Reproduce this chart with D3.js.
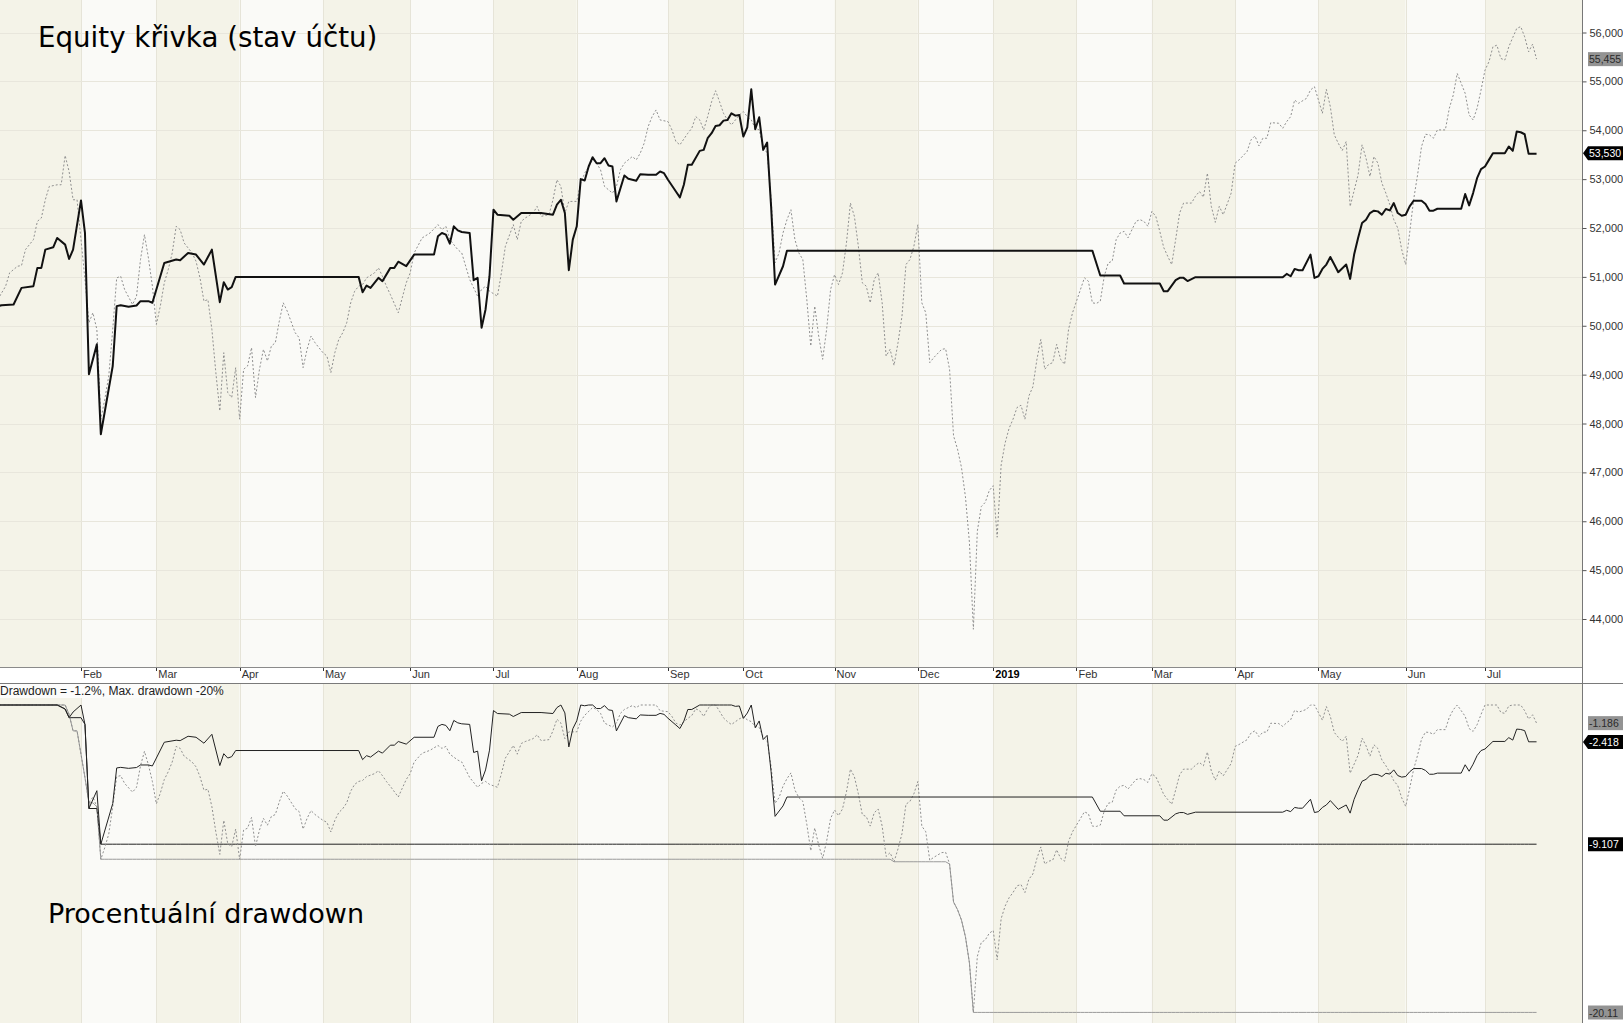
<!DOCTYPE html>
<html>
<head>
<meta charset="utf-8">
<script src="https://cdn.jsdelivr.net/npm/d3@7"></script>
<style>
  body { margin: 0; background: #fff; }
  svg { display: block; }
  .axis text { font-family: "Liberation Sans", Arial, sans-serif; font-size: 11px; fill: #333; }
  .title { font-family: "DejaVu Sans", Verdana, sans-serif; font-size: 27px; fill: #000; }
</style>
</head>
<body>
<svg id="chart" width="1623" height="1023"></svg>
<script>
const width = 1623,
    height = 1023,
    plotRight = 1582,
    upperBottom = 667,
    lowerTop = 683;

// US market holidays, used to build the trading calendar (one bar per session)
const HOLIDAYS = ["2018-01-01", "2018-01-15", "2018-02-19", "2018-03-30", "2018-05-28", "2018-07-04",
    "2018-09-03", "2018-11-22", "2018-12-05", "2018-12-25", "2019-01-01", "2019-01-21",
    "2019-02-18", "2019-04-19", "2019-05-27", "2019-07-04"];

// equity curve of the system: [session number since 2 Jan 2018, account value]
const equity = [
    [0, 50400], [1, 50420], [4, 50435], [6, 50775], [9, 50810], [10, 51184], [11, 51184], [12, 51558],
    [14, 51605], [15, 51796], [17, 51660], [18, 51367], [19, 51558], [21, 52565], [22, 51898], [23, 49007],
    [25, 49619], [26, 47780], [29, 49177], [30, 50401], [31, 50421], [33, 50387], [35, 50415], [36, 50503],
    [38, 50503], [39, 50470], [42, 51285], [45, 51354], [46, 51340], [48, 51490], [50, 51456], [52, 51252],
    [54, 51558], [56, 50483], [57, 50891], [58, 50741], [59, 50789], [60, 51000], [91, 51000], [92, 50687],
    [93, 50823], [94, 50775], [96, 50980], [97, 50911], [99, 51184], [100, 51184], [101, 51310], [103, 51220],
    [105, 51456], [110, 51456], [111, 51830], [112, 51898], [113, 51864], [114, 51680], [115, 52034], [116, 51952],
    [117, 51918], [119, 51898], [120, 50932], [121, 50979], [122, 49959], [123, 50333], [124, 51013], [125, 52374],
    [126, 52272], [129, 52251], [130, 52170], [132, 52306], [137, 52306], [140, 52272], [141, 52476], [142, 52578],
    [143, 52306], [144, 51136], [145, 51762], [146, 52034], [147, 53000], [148, 52973], [149, 53258], [150, 53449],
    [151, 53326], [152, 53326], [153, 53428], [154, 53279], [155, 53258], [156, 52544], [158, 53075], [159, 53007],
    [161, 52966], [162, 53102], [164, 53088], [166, 53088], [167, 53156], [168, 53122], [169, 52986], [171, 52748],
    [172, 52626], [173, 52884], [174, 53292], [175, 53292], [177, 53578], [178, 53598], [179, 53837], [180, 53939],
    [181, 54088], [182, 54102], [183, 54197], [184, 54211], [185, 54347], [186, 54299], [187, 54313], [188, 53871],
    [189, 54061], [190, 54837], [191, 54020], [192, 54265], [193, 53598], [194, 53748], [195, 52442], [196, 50843],
    [198, 51217], [199, 51537], [276, 51537], [278, 51027], [283, 51027], [284, 50864], [293, 50864], [294, 50707],
    [295, 50707], [297, 50932], [298, 50980], [299, 50980], [300, 50915], [302, 50993], [324, 50993], [325, 51061],
    [326, 51013], [327, 51163], [328, 51136], [329, 51136], [331, 51456], [332, 50979], [333, 51013], [334, 51163],
    [335, 51252], [336, 51408], [337, 51252], [338, 51095], [340, 51252], [341, 50959], [342, 51456], [343, 51796],
    [344, 52102], [345, 52170], [346, 52306], [347, 52354], [348, 52340], [349, 52272], [350, 52388], [351, 52360],
    [352, 52510], [353, 52306], [354, 52251], [355, 52272], [356, 52442], [357, 52558], [359, 52558], [360, 52490],
    [361, 52354], [362, 52354], [363, 52394], [369, 52394], [370, 52694], [371, 52462], [372, 52714], [373, 53020],
    [374, 53204], [375, 53258], [376, 53394], [377, 53530], [380, 53530], [381, 53667], [382, 53578], [383, 53973],
    [384, 53959], [385, 53918], [386, 53517], [388, 53517]
];

// buy & hold benchmark (dotted): [session, value]
const benchmark = [
    [0, 50537], [2, 50810], [3, 51082], [5, 51218], [6, 51231], [7, 51558], [9, 51762], [10, 52136],
    [11, 52204], [12, 52578], [13, 52850], [15, 52884], [16, 52884], [17, 53483], [18, 53156], [19, 52578],
    [20, 52578], [21, 51762], [22, 50946], [23, 50061], [24, 50265], [25, 49925], [26, 48088], [27, 48496],
    [28, 48973], [29, 49925], [30, 50979], [31, 51013], [32, 50741], [34, 50435], [35, 50605], [36, 51354],
    [37, 51864], [38, 51388], [39, 50809], [40, 50027], [41, 50401], [42, 50877], [43, 51150], [44, 51490],
    [45, 52034], [46, 51966], [47, 51694], [49, 51490], [50, 51320], [51, 50979], [52, 50503], [53, 50537],
    [54, 49925], [55, 49041], [56, 48258], [57, 49449], [58, 48632], [59, 48530], [60, 49143], [61, 48088],
    [62, 49109], [63, 49177], [64, 49551], [65, 48530], [66, 49109], [67, 49517], [68, 49279], [69, 49585],
    [70, 49653], [71, 50095], [72, 50469], [73, 50299], [75, 49857], [76, 49755], [77, 49143], [78, 49517],
    [79, 49789], [80, 49653], [82, 49449], [83, 49381], [84, 49041], [85, 49449], [86, 49721], [87, 49857],
    [88, 50061], [89, 50469], [90, 50707], [91, 50809], [92, 50843], [93, 50979], [95, 51082], [96, 51184],
    [97, 51013], [98, 50809], [99, 50639], [101, 50265], [102, 50571], [103, 50877], [104, 51082], [105, 51490],
    [107, 51796], [109, 51898], [111, 52068], [112, 51966], [113, 52034], [114, 51762], [116, 51558], [117, 51490],
    [118, 51218], [119, 50946], [121, 50605], [122, 50741], [123, 50809], [124, 50707], [126, 50605], [127, 51082],
    [128, 51626], [130, 52068], [131, 51762], [132, 52136], [133, 52204], [135, 52306], [136, 52442], [137, 52238],
    [139, 52272], [140, 52578], [141, 52986], [142, 52850], [143, 52306], [144, 52544], [146, 52544], [147, 52918],
    [148, 53122], [150, 53394], [151, 53326], [152, 53190], [153, 52850], [155, 52714], [156, 52850], [157, 53190],
    [158, 53326], [160, 53462], [161, 53394], [162, 53530], [163, 53735], [164, 54075], [165, 54279], [166, 54415],
    [167, 54211], [169, 54177], [170, 54007], [171, 53769], [172, 53701], [174, 53939], [175, 54041], [176, 54279],
    [177, 54211], [178, 54007], [179, 54279], [180, 54585], [181, 54809], [182, 54585], [183, 54347], [184, 54211],
    [185, 54109], [187, 54313], [188, 54381], [189, 54279], [190, 54211], [191, 54041], [192, 54007], [193, 53667],
    [194, 53530], [195, 52600], [196, 51286], [197, 51490], [198, 51898], [199, 52170], [200, 52374], [201, 51762],
    [202, 51490], [203, 51354], [204, 50537], [205, 49585], [206, 50401], [207, 49789], [208, 49313], [209, 49925],
    [210, 50741], [211, 51047], [212, 50843], [213, 51082], [214, 51694], [215, 52510], [216, 52238], [217, 51626],
    [218, 50877], [219, 50809], [220, 50469], [221, 50946], [222, 51082], [223, 50469], [224, 49381], [225, 49517],
    [226, 49190], [227, 49653], [228, 50197], [229, 51252], [230, 51354], [231, 51626], [232, 52068], [233, 50469],
    [234, 50265], [235, 49245], [236, 49347], [238, 49517], [239, 49531], [240, 49109], [241, 47748], [242, 47476],
    [243, 47100], [244, 46500], [245, 45571], [246, 43790], [247, 45800], [248, 46300], [249, 46387], [250, 46626],
    [251, 46728], [252, 45673], [253, 47150], [254, 47600], [255, 47900], [256, 48088], [257, 48326], [258, 48374],
    [259, 48088], [260, 48564], [261, 48750], [262, 49300], [263, 49721], [264, 49109], [265, 49211], [266, 49245],
    [267, 49619], [268, 49313], [269, 49211], [270, 49925], [271, 50265], [272, 50503], [273, 50741], [274, 50980],
    [275, 50911], [276, 50469], [277, 50456], [278, 50503], [279, 51013], [280, 51286], [281, 51320], [282, 51762],
    [283, 51898], [284, 51930], [285, 51800], [287, 52136], [288, 52170], [289, 52136], [290, 52034], [291, 52340],
    [292, 52238], [293, 51932], [294, 51600], [295, 51422], [296, 51252], [297, 51762], [298, 52306], [299, 52510],
    [301, 52510], [302, 52650], [303, 52748], [304, 52630], [305, 53122], [306, 52442], [307, 52116], [308, 52442],
    [309, 52272], [311, 52714], [312, 53326], [313, 53394], [315, 53564], [316, 53803], [317, 53884], [318, 53680],
    [319, 53837], [320, 53837], [321, 54156], [323, 54143], [324, 54041], [325, 54177], [326, 54279], [327, 54619],
    [328, 54551], [330, 54653], [331, 54823], [332, 54891], [333, 54619], [334, 54347], [335, 54837], [336, 54483],
    [337, 53905], [338, 53735], [339, 53585], [340, 53769], [341, 52442], [343, 53088], [344, 53701], [345, 53428],
    [346, 53054], [347, 53462], [348, 53326], [349, 52918], [350, 52714], [351, 52476], [352, 52170], [353, 52000],
    [354, 51558], [355, 51252], [356, 51898], [357, 52578], [358, 53088], [359, 53667], [360, 53918], [361, 53905],
    [362, 53837], [363, 54007], [365, 54007], [366, 54449], [367, 54721], [368, 55163], [369, 54959], [370, 54755],
    [371, 54313], [372, 54211], [373, 54449], [374, 54823], [375, 55231], [376, 55401], [377, 55707], [378, 55741],
    [379, 55469], [380, 55435], [381, 55707], [382, 55898], [383, 56082], [384, 56121], [385, 55912], [386, 55605],
    [387, 55762], [388, 55455]
];

const equityTicks = [44000, 45000, 46000, 47000, 48000, 49000, 50000, 51000, 52000, 53000, 54000, 55000, 56000];
// last-value markers on the right axis, as printed
const priceLabels = [55455, 53530];                 // benchmark, system
const drawdownLabels = [-1.186, -2.418, -9.107, -20.11]; // benchmark dd, system dd, system max dd, benchmark max dd
const drawdownTitle = ["Drawdown = ", -1.2, "%, Max. drawdown ", -20, "%"];
const titles = ["Equity křivka (stav účtu)", "Procentuální drawdown"];

// ---------- trading calendar ----------
const fmtDay = d3.utcFormat("%Y-%m-%d");
const sessions = d3.utcDay.range(new Date(Date.UTC(2018, 0, 2)), new Date(Date.UTC(2019, 7, 1)))
    .filter(d => d.getUTCDay() !== 0 && d.getUTCDay() !== 6 && !HOLIDAYS.includes(fmtDay(d)));
const sessionOf = s => sessions.findIndex(d => fmtDay(d) === s);
const monthStarts = sessions
    .map((d, i) => ({d, i}))
    .filter(({d, i}) => i === 0 || d.getUTCMonth() !== sessions[i - 1].getUTCMonth());

const x = d3.scaleLinear()
    .domain([sessionOf("2018-02-01"), sessionOf("2019-07-01")])
    .range([81, 1485]);
const y = d3.scaleLinear().domain([44000, 56000]).range([619, 32.5]);
const y2 = d3.scaleLinear().domain([0, -20.11]).range([705, 1012.5]);

// drawdown series derived from the curves above
const toDrawdown = series => {
    let peak = -Infinity;
    return series.map(([i, v]) => { peak = Math.max(peak, v); return [i, (v / peak - 1) * 100]; });
};
const runningMin = series => {
    let m = Infinity;
    return series.map(([i, v]) => { m = Math.min(m, v); return [i, m]; });
};
const equityDD = toDrawdown(equity), benchDD = toDrawdown(benchmark);

const svg = d3.select("#chart");
const defs = svg.append("defs");
defs.append("clipPath").attr("id", "clipUpper")
    .append("rect").attr("x", 0).attr("y", 0).attr("width", plotRight).attr("height", upperBottom);
defs.append("clipPath").attr("id", "clipLower")
    .append("rect").attr("x", 0).attr("y", lowerTop).attr("width", plotRight).attr("height", height - lowerTop);

// month bands (both panels)
const bands = monthStarts.map((m, k) => ({
    x0: k === 0 ? 0 : x(m.i),
    x1: k + 1 < monthStarts.length ? x(monthStarts[k + 1].i) : plotRight,
    fill: k % 2 === 0 ? "#f4f3e8" : "#fafaf7"
}));
[[0, upperBottom], [lowerTop, height]].forEach(([top, bottom]) => {
    svg.append("g").selectAll("rect").data(bands).enter().append("rect")
        .attr("x", d => d.x0).attr("y", top)
        .attr("width", d => d.x1 - d.x0).attr("height", bottom - top)
        .attr("fill", d => d.fill);
    svg.append("g").selectAll("line").data(monthStarts.slice(1)).enter().append("line")
        .attr("x1", d => Math.round(x(d.i)) + 0.5).attr("x2", d => Math.round(x(d.i)) + 0.5)
        .attr("y1", top).attr("y2", bottom)
        .attr("stroke", "#e6e4d8");
});

// horizontal grid (upper)
svg.append("g").selectAll("line").data(equityTicks).enter().append("line")
    .attr("x1", 0).attr("x2", plotRight)
    .attr("y1", d => Math.round(y(d)) + 0.5).attr("y2", d => Math.round(y(d)) + 0.5)
    .attr("stroke", "#e8e6dc");

// titles
svg.append("text").attr("class", "title").attr("x", 38).attr("y", 47).style("font-size", "27.7px").text(titles[0]);
svg.append("text").attr("class", "title").attr("x", 48).attr("y", 923).text(titles[1]);

const line = d3.line().x(d => x(d[0])).y(d => y(d[1]));
const line2 = d3.line().x(d => x(d[0])).y(d => y2(d[1]));

const upper = svg.append("g").attr("clip-path", "url(#clipUpper)");
upper.append("path").datum(benchmark).attr("d", line)
    .attr("fill", "none").attr("stroke", "#8f8f8f").attr("stroke-width", 1).attr("stroke-dasharray", "2,2");
upper.append("path").datum(equity).attr("d", line)
    .attr("fill", "none").attr("stroke", "#111").attr("stroke-width", 2).attr("stroke-linejoin", "round");

const lower = svg.append("g").attr("clip-path", "url(#clipLower)");
lower.append("path").datum(runningMin(benchDD)).attr("d", line2)
    .attr("fill", "none").attr("stroke", "#9a9a9a").attr("stroke-width", 1);
lower.append("path").datum(runningMin(equityDD)).attr("d", line2)
    .attr("fill", "none").attr("stroke", "#222").attr("stroke-width", 1);
lower.append("path").datum(benchDD).attr("d", line2)
    .attr("fill", "none").attr("stroke", "#8f8f8f").attr("stroke-width", 1).attr("stroke-dasharray", "2,2");
lower.append("path").datum(equityDD).attr("d", line2)
    .attr("fill", "none").attr("stroke", "#222").attr("stroke-width", 1);

// drawdown caption
svg.append("rect").attr("x", 0).attr("y", 684).attr("width", 216).attr("height", 14).attr("fill", "#fcfcfb");
svg.append("text")
    .attr("x", 0).attr("y", 695)
    .style("font-family", "'Liberation Sans', Arial, sans-serif").style("font-size", "12px").style("fill", "#222")
    .text(drawdownTitle.join(""));

// date strip
svg.append("rect").attr("x", 0).attr("y", upperBottom).attr("width", plotRight).attr("height", lowerTop - upperBottom)
    .attr("fill", "#fff");
const xAxis = svg.append("g").attr("class", "axis");
xAxis.selectAll("line").data(monthStarts.slice(1)).enter().append("line")
    .attr("x1", d => Math.round(x(d.i)) + 0.5).attr("x2", d => Math.round(x(d.i)) + 0.5)
    .attr("y1", upperBottom).attr("y2", upperBottom + 4).attr("stroke", "#333");
xAxis.selectAll("text").data(monthStarts.slice(1)).enter().append("text")
    .attr("x", d => x(d.i) + 2).attr("y", 678)
    .style("font-weight", d => d.d.getUTCMonth() === 0 ? "bold" : null)
    .style("fill", d => d.d.getUTCMonth() === 0 ? "#000" : null)
    .text(d => d.d.getUTCMonth() === 0 ? d3.utcFormat("%Y")(d.d) : d3.utcFormat("%b")(d.d));
svg.append("line").attr("x1", 0).attr("x2", plotRight).attr("y1", upperBottom + 0.5).attr("y2", upperBottom + 0.5)
    .attr("stroke", "#8a8a8a");
svg.append("line").attr("x1", 0).attr("x2", width).attr("y1", lowerTop + 0.5).attr("y2", lowerTop + 0.5)
    .attr("stroke", "#7a7a7a");

// right axis
svg.append("line").attr("x1", plotRight + 0.5).attr("x2", plotRight + 0.5).attr("y1", 0).attr("y2", height)
    .attr("stroke", "#777");
const yAxis = svg.append("g").attr("class", "axis")
    .attr("transform", `translate(${plotRight + 0.5},0)`)
    .call(d3.axisRight(y).tickValues(equityTicks).tickSize(4).tickPadding(3).tickFormat(d3.format(",")));
yAxis.select(".domain").remove();
yAxis.selectAll(".tick line").attr("stroke", "#555");

// value markers
const marker = (yPos, text, boxFill, textFill, arrow) => {
    const g = svg.append("g");
    const h = 14, left = plotRight + 6;
    if (arrow) {
        g.append("path")
            .attr("d", `M${plotRight + 1},${yPos} L${left},${yPos - h / 2} L${width},${yPos - h / 2} L${width},${yPos + h / 2} L${left},${yPos + h / 2} Z`)
            .attr("fill", boxFill);
    } else {
        g.append("rect").attr("x", left).attr("y", yPos - h / 2).attr("width", width - left).attr("height", h)
            .attr("fill", boxFill);
    }
    g.append("text").attr("x", left + 1).attr("y", yPos + 4)
        .style("font-family", "'Liberation Sans', Arial, sans-serif").style("font-size", "10.5px")
        .style("fill", textFill).text(text);
};
const fmtPrice = d3.format(",.0f");
marker(y(priceLabels[0]), fmtPrice(priceLabels[0]), "#939393", "#2a2a2a", false);
marker(y(priceLabels[1]), fmtPrice(priceLabels[1]), "#000", "#fff", true);
marker(y2(drawdownLabels[0]), String(drawdownLabels[0]), "#939393", "#2a2a2a", false);
marker(y2(drawdownLabels[1]), String(drawdownLabels[1]), "#000", "#fff", true);
marker(y2(drawdownLabels[2]), String(drawdownLabels[2]), "#000", "#fff", false);
marker(y2(drawdownLabels[3]), String(drawdownLabels[3]), "#939393", "#2a2a2a", false);
</script>
</body>
</html>
